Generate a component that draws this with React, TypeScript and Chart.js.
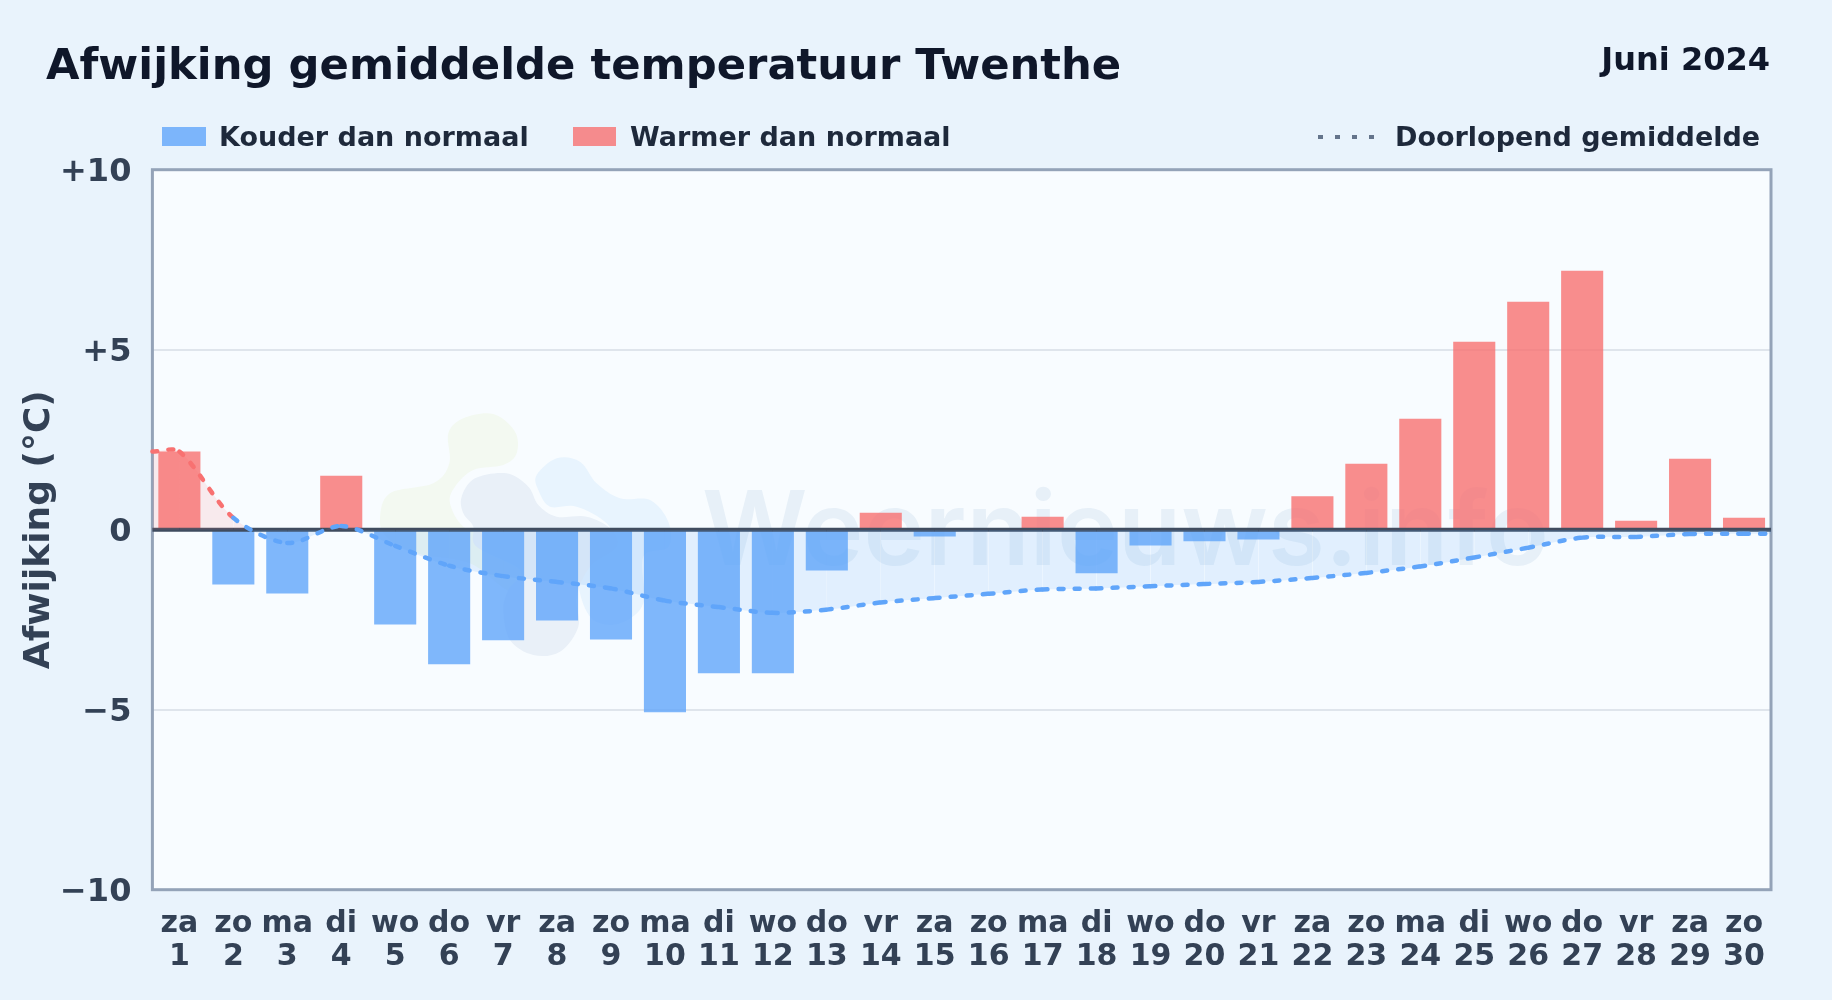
import React, { useEffect, useRef } from "react";
import { Chart, registerables } from "chart.js";

Chart.register(...registerables);

const titel = "Afwijking gemiddelde temperatuur Twenthe";
const periode = "Juni 2024";
const watermerk = "Weernieuws.info";
const legendaKouder = "Kouder dan normaal";
const legendaWarmer = "Warmer dan normaal";
const legendaGemiddelde = "Doorlopend gemiddelde";
const asTitel = "Afwijking (°C)";

const weekdagen = ["za","zo","ma","di","wo","do","vr","za","zo","ma","di","wo","do","vr","za","zo","ma","di","wo","do","vr","za","zo","ma","di","wo","do","vr","za","zo"];
const dagen = ["1","2","3","4","5","6","7","8","9","10","11","12","13","14","15","16","17","18","19","20","21","22","23","24","25","26","27","28","29","30"];
const afwijking = [2.17,-1.52,-1.77,1.5,-2.63,-3.74,-3.07,-2.52,-3.05,-5.07,-3.99,-3.99,-1.13,0.47,-0.19,0,0.36,-1.21,-0.44,-0.32,-0.27,0.93,1.83,3.08,5.22,6.33,7.19,0.25,1.97,0.33];
const gemiddelde = [2.17,0.33,-0.37,0.1,-0.45,-1.0,-1.29,-1.45,-1.63,-1.97,-2.15,-2.31,-2.22,-2.02,-1.9,-1.78,-1.66,-1.63,-1.57,-1.51,-1.45,-1.34,-1.2,-1.02,-0.77,-0.5,-0.22,-0.2,-0.12,-0.11];
const yTicks = [10, 5, 0, -5, -10];
const yTickLabels = ["+10", "+5", "0", "−5", "−10"];

const BLAUW = "#60a5fa";
const ROOD = "#f87171";
const FONT = "'DejaVu Sans'";

function blob(ctx: CanvasRenderingContext2D, pts: number[][], color: string) {
  // closed Catmull-Rom outline, zoom-crop coordinates converted to page pixels
  const P = pts.map(([x, y]) => [360 + x / 3, 390 + y / 3]);
  const n = P.length;
  ctx.beginPath();
  ctx.moveTo(P[0][0], P[0][1]);
  for (let i = 0; i < n; i++) {
    const p0 = P[(i - 1 + n) % n], p1 = P[i], p2 = P[(i + 1) % n], p3 = P[(i + 2) % n];
    ctx.bezierCurveTo(
      p1[0] + (p2[0] - p0[0]) / 6, p1[1] + (p2[1] - p0[1]) / 6,
      p2[0] - (p3[0] - p1[0]) / 6, p2[1] - (p3[1] - p1[1]) / 6,
      p2[0], p2[1]
    );
  }
  ctx.closePath();
  ctx.fillStyle = color;
  ctx.fill();
}

const plotAchtergrond = {
  id: "plotAchtergrond",
  beforeDraw(chart: any) {
    const { ctx, chartArea: a } = chart;
    ctx.save();
    ctx.fillStyle = "#f8fcff";
    ctx.fillRect(a.left, a.top, a.right - a.left, a.bottom - a.top);
    ctx.restore();
  },
};

const decoratie = {
  id: "decoratie",
  beforeDatasetsDraw(chart: any) {
    const { ctx, chartArea: a } = chart;
    ctx.save();
    ctx.strokeStyle = "#94a3b8";
    ctx.lineWidth = 3;
    ctx.strokeRect(a.left, a.top, a.right - a.left, a.bottom - a.top);

    blob(ctx, [[60,385],[90,310],[220,280],[268,220],[265,130],[310,85],[400,72],[465,125],[470,190],[430,225],[340,240],[285,290],[270,340],[310,410],[400,450],[510,560],[510,610],[440,600],[330,520],[170,490],[80,440]], "#f3f9f1");
    blob(ctx, [[530,255],[590,205],[660,215],[710,280],[780,325],[870,330],[925,395],[925,470],[850,500],[850,640],[780,700],[700,690],[660,610],[670,545],[760,470],[740,400],[650,350],[570,350],[535,300]], "#e8f4fe");
    blob(ctx, [[305,320],[345,265],[440,250],[505,290],[535,345],[590,380],[680,380],[750,415],[770,470],[690,530],[650,620],[655,710],[600,785],[520,795],[450,750],[430,660],[445,600],[480,540],[350,470],[340,410],[310,370]], "#e9f0f8");

    ctx.font = `600 103.4px Inter`;
    ctx.textAlign = "left";
    ctx.textBaseline = "alphabetic";
    ctx.fillStyle = "rgba(71,120,175,0.09)";
    ctx.fillText(watermerk, 702, 565);
    ctx.restore();
  },
  afterDraw(chart: any) {
    const { ctx } = chart;
    ctx.save();
    ctx.textBaseline = "alphabetic";
    ctx.textAlign = "left";
    ctx.fillStyle = "#0f172a";
    ctx.font = `bold 43.3px ${FONT}`;
    ctx.fillText(titel, 46, 79);
    ctx.textAlign = "right";
    ctx.font = `bold 32px ${FONT}`;
    ctx.fillText(periode, 1770, 70);

    ctx.textAlign = "left";
    ctx.font = `bold 27px ${FONT}`;
    ctx.fillStyle = "rgba(96,165,250,0.8)";
    ctx.fillRect(162, 127, 44, 19);
    ctx.fillStyle = "rgba(248,113,113,0.8)";
    ctx.fillRect(573, 127, 43, 19);
    ctx.fillStyle = "#1e293b";
    ctx.fillText(legendaKouder, 219, 146);
    ctx.fillText(legendaWarmer, 630, 146);
    ctx.fillText(legendaGemiddelde, 1395, 146);
    ctx.fillStyle = "#64748b";
    for (let i = 0; i < 4; i++) ctx.fillRect(1318 + i * 17, 135, 5, 4);
    ctx.restore();
  },
};

export default function App() {
  const ref = useRef<HTMLCanvasElement>(null);
  useEffect(() => {
    document.body.style.margin = "0";
    document.body.style.background = "#e9f3fc";
    const puntenGemiddelde = [
      { x: 0.5, y: gemiddelde[0] },
      ...gemiddelde.map((y, i) => ({ x: i + 1, y })),
      { x: 30.5, y: gemiddelde[gemiddelde.length - 1] },
    ];
    const chart = new Chart(ref.current as HTMLCanvasElement, {
      data: {
        labels: dagen.map((d, i) => [weekdagen[i], d]),
        datasets: [
          {
            type: "bar", label: legendaKouder, order: 3, grouped: false,
            data: afwijking.map((v) => (v < 0 ? v : null)),
            backgroundColor: "rgba(96,165,250,0.8)", borderWidth: 0,
            barPercentage: 0.78, categoryPercentage: 1,
          },
          {
            type: "bar", label: legendaWarmer, order: 3, grouped: false,
            data: afwijking.map((v) => (v > 0 ? v : null)),
            backgroundColor: "rgba(248,113,113,0.8)", borderWidth: 0,
            barPercentage: 0.78, categoryPercentage: 1,
          },
          {
            type: "line", label: "Nul", order: 2, xAxisID: "xLijn",
            data: [{ x: 0.5, y: 0 }, { x: 30.5, y: 0 }],
            borderColor: "#3f4c5f", borderWidth: 4, pointRadius: 0, fill: false, clip: 3,
          },
          {
            type: "line", label: legendaGemiddelde, order: 1, xAxisID: "xLijn",
            data: puntenGemiddelde,
            borderColor: BLAUW, borderWidth: 4.5, borderDash: [5, 11], borderCapStyle: "round",
            pointRadius: 0, tension: 0.3, clip: 3,
            fill: { target: "origin", above: "rgba(248,113,113,0.13)", below: "rgba(96,165,250,0.15)" },
            segment: {
              borderColor: (c: any) => (c.p0.parsed.y >= 0 && c.p1.parsed.y >= 0 ? ROOD : BLAUW),
              // every stretch between two days restarts the dash pattern, as in the reference
              borderDashOffset: (c: any) => (c.p0DataIndex % 2 ? 0 : 0.001),
            },
          },
        ],
      } as any,
      options: {
        responsive: false,
        animation: false,
        layout: { padding: { top: 169.7, right: 61, left: 0, bottom: 0 } },
        plugins: { legend: { display: false }, tooltip: { enabled: false } },
        scales: {
          x: {
            type: "category",
            offset: true,
            grid: { display: false },
            border: { display: false },
            afterFit: (s: any) => { s.height = 110.3; },
            ticks: {
              maxRotation: 0, minRotation: 0, autoSkip: false, padding: 10,
              color: "#334155",
              font: { family: FONT, weight: "bold", size: 30, lineHeight: 1.1 },
            },
          },
          xLijn: { type: "linear", display: false, min: 0.5, max: 30.5 },
          y: {
            min: -10, max: 10,
            afterFit: (s: any) => { s.width = 152.4; },
            afterBuildTicks: (s: any) => { s.ticks = yTicks.map((value) => ({ value })); },
            grid: {
              drawTicks: false, lineWidth: 2,
              color: (c: any) => (Math.abs(c.tick.value) === 5 ? "#dfe5ec" : "rgba(0,0,0,0)"),
            },
            border: { display: false },
            title: {
              display: true, text: asTitel, color: "#334155",
              font: { family: FONT, weight: "bold", size: 36 }, padding: { top: 18, bottom: 0 },
            },
            ticks: {
              padding: 21,
              labelOffset: 3,
              color: "#334155",
              font: { family: FONT, weight: "bold", size: 32 },
              callback: (v: any) => yTickLabels[yTicks.indexOf(v)],
            },
          },
        },
      } as any,
      plugins: [plotAchtergrond, decoratie],
    });
    return () => chart.destroy();
  }, []);
  return <canvas ref={ref} width={1832} height={1000} style={{ display: "block", width: 1832, height: 1000 }} />;
}
